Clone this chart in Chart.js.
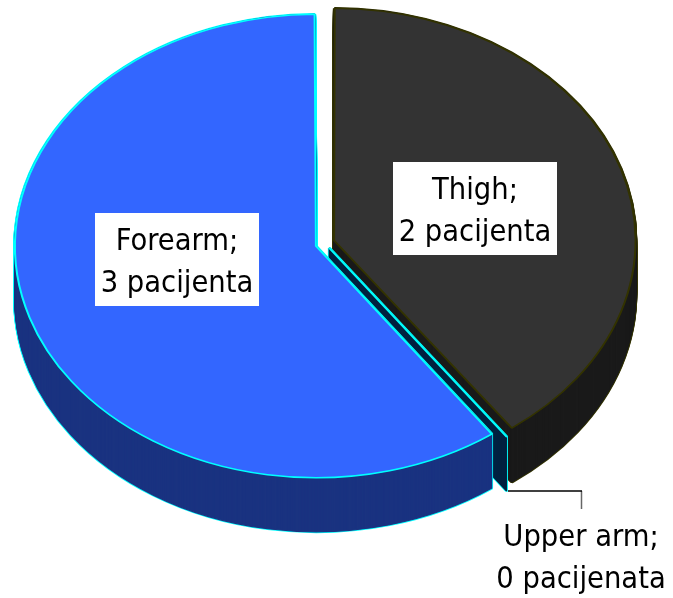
<!DOCTYPE html>
<html>
<head>
<meta charset="utf-8">
<script src="https://cdn.jsdelivr.net/npm/chart.js@4"></script>
<style>
  html, body { margin: 0; padding: 0; background: #fff; }
  canvas { display: block; }
</style>
</head>
<body>
<canvas id="pita" width="673" height="598"></canvas>
<script>
const kategorije = ['Thigh', 'Upper arm', 'Forearm'];
const pacijenti = [2, 0, 3];
const jedinice = ['pacijenta', 'pacijenata', 'pacijenta'];

// Boje
const boje = ['#333333', '#003366', '#3366FF'];
const bojeZida = ['#1A1A1A', '#00203F', '#1A3380'];
const bojeRuba = ['#333300', '#00FFFF', '#00FFFF'];

const nagib = 0.77;
const dubina = 54;
const tanko = 0.004; // prazna kriska se vidi samo kao tanka linija

// Sitne korekcije kriski (radijus, x, y)
const popravakR = [3.5, 0, -2];
const popravakX = [2, 0, 0];
const popravakY = [-0.5, -0.5, 1];

// Kriska s pripremljenim stilom, pa vracanje originala
function crtaj(ctx, arc, cy, d, stil) {
  const stare = arc.options;
  arc.options = Object.assign({}, stare, stil);
  ctx.save();
  ctx.translate(0, cy + d);
  ctx.scale(1, nagib);
  ctx.translate(0, -cy);
  arc.draw(ctx);
  ctx.restore();
  arc.options = stare;
}

function natpis(ctx, linije, x, y, okvir) {
  ctx.save();
  if (okvir) {
    ctx.fillStyle = '#fff';
    ctx.fillRect(okvir[0], okvir[1], okvir[2], okvir[3]);
  }
  ctx.fillStyle = '#000';
  ctx.font = '30.5px "DejaVu Sans Condensed"';
  ctx.textAlign = 'center';
  ctx.textBaseline = 'middle';
  linije.forEach((t, i) => ctx.fillText(t, x, y + i * 42));
  ctx.restore();
}

const pita3d = {
  id: 'pita3d',
  afterDatasetsUpdate(chart) {
    chart.getDatasetMeta(0).data.forEach((arc, i) => {
      if (arc.circumference === 0) {
        arc.circumference = tanko;
        arc.endAngle = arc.startAngle + tanko;
      }
      arc.outerRadius += popravakR[i];
      arc.x += popravakX[i];
    });
  },
  beforeDatasetDraw(chart) {
    const ctx = chart.ctx;
    const arcs = chart.getDatasetMeta(0).data;
    const cy = arcs[2].y;

    arcs.forEach((arc, i) => {
      const d0 = popravakY[i];
      // zid kriske: prvo rub, zatim ispuna preko njega
      for (let d = dubina; d >= 0; d--) {
        crtaj(ctx, arc, cy, d + d0, { backgroundColor: bojeRuba[i], borderColor: bojeRuba[i], borderWidth: 3.5 });
      }
      for (let d = dubina; d >= 0; d--) {
        crtaj(ctx, arc, cy, d + d0, { backgroundColor: bojeZida[i], borderColor: bojeZida[i], borderWidth: 1.5 });
      }
    });
    arcs.forEach((arc, i) => {
      crtaj(ctx, arc, cy, popravakY[i], { backgroundColor: boje[i], borderColor: bojeRuba[i], borderWidth: 2 });
    });
    return false;
  },
  afterDatasetsDraw(chart) {
    const ctx = chart.ctx;
    const tekst = i => [kategorije[i] + ';', pacijenti[i] + ' ' + jedinice[i]];

    // linija do natpisa
    ctx.save();
    ctx.lineWidth = 1.5;
    ctx.strokeStyle = '#666';
    ctx.beginPath();
    ctx.moveTo(581.5, 491);
    ctx.lineTo(581.5, 509);
    ctx.stroke();
    ctx.strokeStyle = '#000';
    ctx.beginPath();
    ctx.moveTo(508, 491);
    ctx.lineTo(582, 491);
    ctx.stroke();
    ctx.restore();

    natpis(ctx, tekst(2), 177, 242, [95, 213, 164, 93]);
    natpis(ctx, tekst(0), 475, 191, [393, 162, 164, 93]);
    natpis(ctx, tekst(1), 581, 538, null);
  }
};

new Chart(document.getElementById('pita'), {
  type: 'pie',
  data: {
    labels: kategorije,
    datasets: [{
      data: pacijenti,
      backgroundColor: boje,
      borderColor: bojeRuba,
      borderWidth: 2,
      offset: 34,
      clip: false
    }]
  },
  options: {
    responsive: false,
    animation: false,
    devicePixelRatio: 1,
    radius: 294.5,
    layout: { padding: { left: 0, top: 0, right: 25, bottom: 112 } },
    plugins: {
      legend: { display: false },
      tooltip: { enabled: false }
    }
  },
  plugins: [pita3d]
});
</script>
</body>
</html>
